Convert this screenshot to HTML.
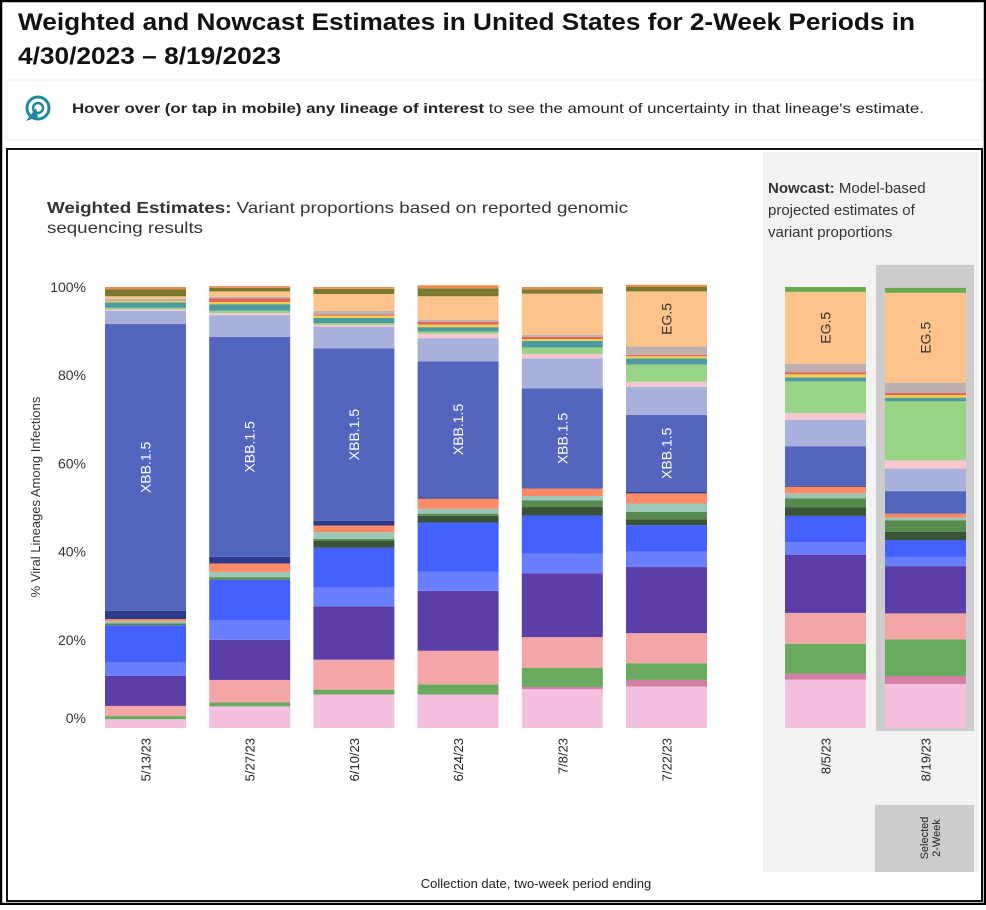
<!DOCTYPE html>
<html><head><meta charset="utf-8"><style>
body{margin:0;width:986px;height:905px;overflow:hidden;background:#fff;font-family:"Liberation Sans",Arial,sans-serif}
</style></head><body>
<svg width="986" height="905" xmlns="http://www.w3.org/2000/svg" font-family="Liberation Sans, Arial, sans-serif" id="svg">
<rect x="1" y="1" width="984" height="903" fill="#fff" stroke="#000" stroke-width="2.5"/>
<text x="18" y="30" font-size="24" font-weight="bold" fill="#111" textLength="897" lengthAdjust="spacingAndGlyphs">Weighted and Nowcast Estimates in United States for 2-Week Periods in</text>
<text x="18" y="64" font-size="24" font-weight="bold" fill="#111" textLength="263" lengthAdjust="spacingAndGlyphs">4/30/2023 – 8/19/2023</text>
<rect x="7" y="80" width="975" height="60" fill="#fff" stroke="#eee"/>
<g>
<circle cx="38" cy="108" r="11" fill="none" stroke="#1f8a9a" stroke-width="3"/>
<circle cx="38" cy="108" r="5" fill="none" stroke="#1f8a9a" stroke-width="2.5"/>
<path d="M26 121 L36 108 L38 117 Z" fill="#1f8a9a"/>
</g>
<text x="72" y="113" font-size="14" fill="#222" textLength="852" lengthAdjust="spacingAndGlyphs"><tspan font-weight="bold">Hover over (or tap in mobile) any lineage of interest</tspan> to see the amount of uncertainty in that lineage's estimate.</text>
<rect x="7" y="149" width="975" height="752" fill="#fff" stroke="#111" stroke-width="2"/>
<rect x="763" y="152" width="216" height="720" fill="#f2f2f2"/>
<rect x="876" y="265" width="98" height="466" fill="#cccccc"/>
<rect x="875" y="805" width="99" height="67" fill="#cccccc"/>
<text transform="translate(930,838) rotate(-90)" text-anchor="middle" font-size="11" fill="#222"><tspan x="0" dy="-2">Selected</tspan><tspan x="0" dy="12">2-Week</tspan></text>
<text x="47" y="213" font-size="16" fill="#333" textLength="581" lengthAdjust="spacingAndGlyphs"><tspan font-weight="bold">Weighted Estimates:</tspan> Variant proportions based on reported genomic</text>
<text x="47" y="233" font-size="16" fill="#333" textLength="156" lengthAdjust="spacingAndGlyphs">sequencing results</text>
<text x="768" y="193" font-size="15" fill="#333"><tspan font-weight="bold">Nowcast:</tspan> Model-based</text>
<text x="768" y="215" font-size="15" fill="#333">projected estimates of</text>
<text x="768" y="237" font-size="15" fill="#333">variant proportions</text>
<text transform="translate(40,497) rotate(-90)" text-anchor="middle" font-size="13" fill="#333">% Viral Lineages Among Infections</text>
<text x="536" y="888" text-anchor="middle" font-size="13" fill="#222">Collection date, two-week period ending</text>
<g id="bars"></g>
</svg>
<script>
const categories=["5/13/23","5/27/23","6/10/23","6/24/23","7/8/23","7/22/23","8/5/23","8/19/23"];
const lineages=["pink","mauve","green","salmon","purple","ltblue","blue","dkgreen","midgreen","ltteal","orange","navy","XBB.1.5","lavender","ltpink","ltgreen","teal","yellow","red","gray","EG.5","olive","toporange"];
const colors=["#f5bfe0","#d47fa3","#6aaa5e","#f4a5a5","#5b3ea8","#6a7fff","#4460ff","#3a5236","#568a4e","#9cc6b8","#ff8a65","#2e3a8c","#5365bd","#a8b0dc","#f7c6d0","#97d485","#4f9aa0","#f2d04a","#e8625a","#bdb0ae","#fdc38a","#7a7a2e","#f08a4b"];
const values=[
[2,0,0.7,2.3,6.8,3,8.5,0,0.4,0.5,0.5,1.9,65,3,0.3,0.4,1.2,0.3,0,0.5,0.6,1.6,0.5],
[4.9,0,0.9,5.1,9.1,4.4,9.2,0,0.6,1.2,1.9,1.5,49.9,4.9,0.5,0.5,1.5,0.5,0.8,0.4,1.2,0.8,0.4],
[7.6,0,1.1,6.8,12.1,4.2,9.1,1.5,0.5,1.5,1.5,1.1,39.1,4.9,0.4,0.4,1.2,0.5,0.3,0.8,3.8,1.2,0.4],
[7.6,0,2.3,7.6,13.6,4.3,11.2,1.5,0.5,1.1,2.3,0.3,30.8,5.3,1,0.5,1,0.6,0.6,0.5,5.3,1.8,0.7],
[8.8,0.5,4.3,7,14.5,4.4,8.7,1.9,1.5,1,1.7,0,22.7,6.8,1,1.5,1.5,0.4,0.5,0.5,9.3,1,0.5],
[9.4,1.5,3.8,6.8,15,3.5,6,1.3,1.7,1.9,2.3,0.4,17.4,6.4,1.1,3.9,1.4,0.5,0.3,1.9,12.5,1,0.5],
[11,1.3,6.8,7,13.2,2.8,6,1.9,2.1,1.1,1.5,0.2,9,6,1.5,7.2,0.9,0.7,0.5,1.9,16.3,1.1,0],
[10,1.8,8.3,5.9,10.7,2.1,3.8,1.9,2.6,0.6,0.9,0,5.1,5.1,1.9,13.4,0.8,0.6,0.5,2.3,20.4,1.1,0]
];
const yTicks=[0,20,40,60,80,100];
const NS="http://www.w3.org/2000/svg";
const y0=728,y100=287;
function yScale(v){return y0-(y0-y100)*v/100;}
function xScale(i){return i<6?105+i*104.2:785+(i-6)*100;}
const barW=81;
const g=document.getElementById('bars');
const svg=document.getElementById('svg');
yTicks.forEach(t=>{
 const tx=document.createElementNS(NS,'text');
 tx.setAttribute('x',86);tx.setAttribute('y',t===0?yScale(t)-5:yScale(t)+5);
 tx.setAttribute('text-anchor','end');tx.setAttribute('font-size','14');tx.setAttribute('fill','#333');
 tx.textContent=t+'%';
 
 
 svg.appendChild(tx);
});
categories.forEach((c,i)=>{
 let cum=0;const x=xScale(i);
 values[i].forEach((v,k)=>{
  if(v<=0)return;
  const r=document.createElementNS(NS,'rect');
  const yt=yScale(cum+v),yb=yScale(cum);
  r.setAttribute('x',x);r.setAttribute('width',barW);
  r.setAttribute('y',yt);r.setAttribute('height',Math.max(0,yb-yt));
  r.setAttribute('fill',(k===21&&i>=6)?'#6aaa4e':colors[k]);
  
  
  g.appendChild(r);
  if((lineages[k]==='XBB.1.5'&&v>=15)||(lineages[k]==='EG.5'&&v>=12)){
   const tx=document.createElementNS(NS,'text');
   const cy=(yt+yb)/2;
   tx.setAttribute('transform','translate('+(x+barW/2+5)+','+cy+') rotate(-90)');
   tx.setAttribute('text-anchor','middle');tx.setAttribute('font-size','14');
   tx.setAttribute('fill',lineages[k]==='EG.5'?'#333':'#fff');
   tx.textContent=lineages[k];
   
   
   g.appendChild(tx);
  }
  cum+=v;
 });
 const lb=document.createElementNS(NS,'text');
 lb.setAttribute('transform','translate('+(x+barW/2+5)+',738) rotate(-90)');
 lb.setAttribute('text-anchor','end');lb.setAttribute('font-size','13');lb.setAttribute('fill','#222');
 lb.textContent=c;
 
 
 svg.appendChild(lb);
});
</script>
</body></html>
